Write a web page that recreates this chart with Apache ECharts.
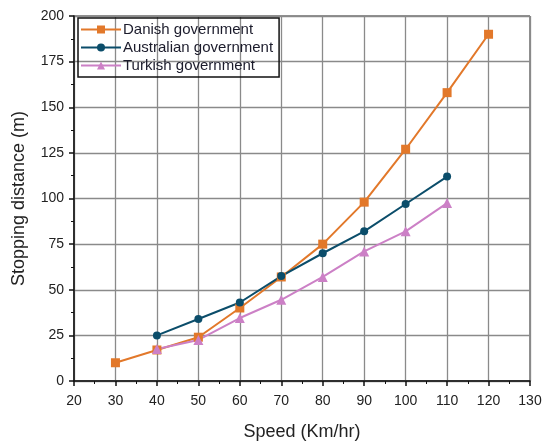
<!DOCTYPE html>
<html><head><meta charset="utf-8">
<script src="https://cdn.jsdelivr.net/npm/echarts@6/dist/echarts.min.js"></script>
<style>html,body{margin:0;padding:0;background:#fff}#c{width:543px;height:442px}</style>
</head><body><div id="c"></div>
<script>
const speeds = [30, 40, 50, 60, 70, 80, 90, 100, 110, 120];
const danish = [10, 17, 24, 40, 57, 75, 98, 127, 158, 190];
const australianSpeeds = [40, 50, 60, 70, 80, 90, 100, 110];
const australian = [25, 34, 43, 57.5, 70, 82, 97, 112];
const turkishSpeeds = [40, 50, 60, 70, 80, 90, 100, 110];
const turkish = [17.5, 22.5, 34.5, 44.5, 57, 71, 82, 97.5];
const seriesNames = ['Danish government', 'Australian government', 'Turkish government'];

const font = 'Liberation Sans, Arial, sans-serif';
const chart = echarts.init(document.getElementById('c'));
const zip = (xs, ys) => xs.map((x, i) => [x, ys[i]]);
chart.setOption({
  animation: false,
  textStyle: { fontFamily: font },
  grid: { left: 74, right: 13, top: 16, bottom: 61, outerBoundsMode: 'none', containLabel: false,
    show: true, borderColor: '#222', borderWidth: 1, backgroundColor: '#fff' },
  legend: {
    orient: 'vertical', left: 78, top: 18,
    borderColor: '#111', borderWidth: 1.5, padding: [4, 6, 4, 2],
    itemWidth: 40, itemHeight: 10, itemGap: 3,
    textStyle: { fontFamily: font, fontSize: 15, color: '#1b1b2b', padding: [0, 0, 0, -3] },
    data: seriesNames
  },
  xAxis: {
    type: 'value', min: 20, max: 130, interval: 10,
    name: 'Speed (Km/hr)', nameLocation: 'middle', nameGap: 42,
    nameTextStyle: { fontFamily: font, fontSize: 18, color: '#222' },
    axisLine: { show: true, onZero: false, lineStyle: { color: '#111', width: 1.5 } },
    axisTick: { show: true, length: 5, lineStyle: { color: '#111', width: 1.5 } },
    minorTick: { show: true, splitNumber: 2, length: 3, lineStyle: { color: '#111' } },
    axisLabel: { fontFamily: font, fontSize: 14, color: '#222', margin: 13 },
    splitLine: { show: true, lineStyle: { color: '#8a8a8a', width: 1.3 } }
  },
  yAxis: {
    type: 'value', min: 0, max: 200, interval: 25,
    name: 'Stopping distance (m)', nameLocation: 'middle', nameGap: 46,
    nameTextStyle: { fontFamily: font, fontSize: 18, color: '#222' },
    axisLine: { show: true, onZero: false, lineStyle: { color: '#111', width: 1.5 } },
    axisTick: { show: true, length: 5, lineStyle: { color: '#111', width: 1.5 } },
    minorTick: { show: true, splitNumber: 2, length: 3, lineStyle: { color: '#111' } },
    axisLabel: { fontFamily: font, fontSize: 14, color: '#222', margin: 10 },
    splitLine: { show: true, lineStyle: { color: '#8a8a8a', width: 1.3 } }
  },
  series: [
    { name: seriesNames[0], type: 'line', data: zip(speeds, danish), symbol: 'rect', symbolSize: 9,
      itemStyle: { color: '#E2782A' }, lineStyle: { color: '#E2782A', width: 2 } },
    { name: seriesNames[1], type: 'line', data: zip(australianSpeeds, australian), symbol: 'circle', symbolSize: 8,
      itemStyle: { color: '#0B4D6A' }, lineStyle: { color: '#0B4D6A', width: 2 } },
    { name: seriesNames[2], type: 'line', data: zip(turkishSpeeds, turkish), symbol: 'triangle', symbolSize: 10,
      itemStyle: { color: '#CC80C6' }, lineStyle: { color: '#CC80C6', width: 2 } }
  ]
});
</script></body></html>
